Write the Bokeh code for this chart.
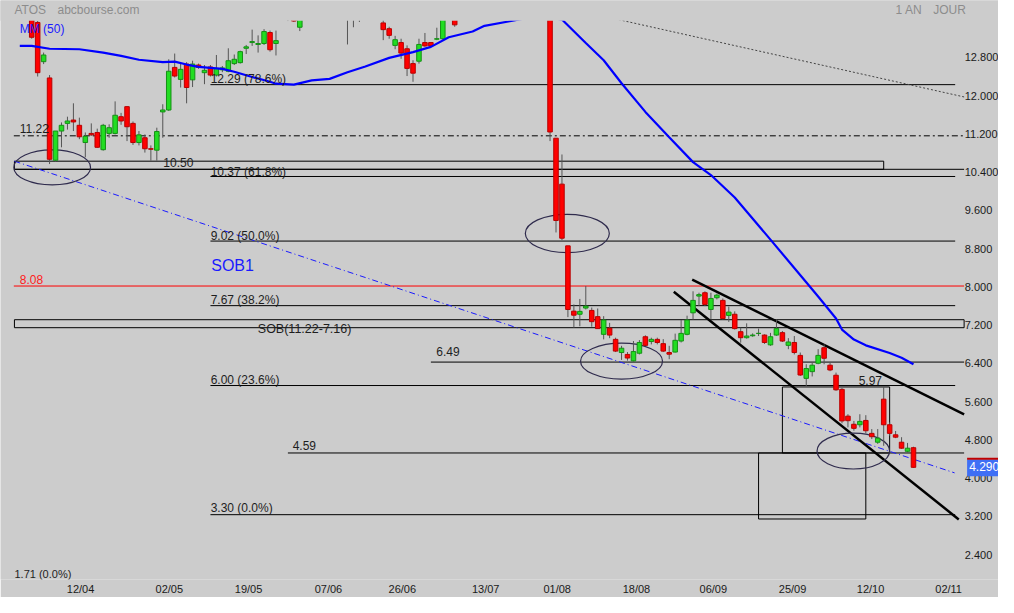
from bokeh.plotting import figure
from bokeh.models import FixedTicker
from bokeh.core.properties import value
from bokeh.embed import file_html
from bokeh.resources import INLINE

# ---------------- data (trading-day index, prices in EUR) ----------------
opens = [13.90, 13.59, 12.77, 12.43, 10.71, 11.32, 11.48, 11.55, 11.44, 11.08,
         11.27, 11.29, 10.93, 11.27, 11.27, 11.62, 11.83, 11.48, 11.08, 11.18,
         10.95, 10.92, 11.72, 11.76, 12.65, 12.40, 12.72, 12.39, 12.70, 12.54,
         12.66, 12.49, 12.60, 12.57, 12.73, 12.75, 13.05, 13.17, 13.13, 13.15,
         13.38, 13.15, 13.70, 13.85, 13.80, 13.49, 13.85, 13.90, 13.95, 13.90,
         13.85, 13.92, 13.80, 13.75, 13.70, 13.80, 13.90, 13.85, 13.75, 13.58,
         13.46, 13.11, 13.17, 13.04, 12.73, 12.78, 13.17, 13.17, 13.24, 13.25,
         13.80, 13.90, 13.70, 13.85, 13.90, 13.88, 13.94, 13.90, 13.88, 13.95,
         13.92, 13.85, 13.92, 13.88, 13.80, 13.90, 13.80, 13.90, 11.17, 10.21,
         8.92, 7.555, 7.49, 7.62, 7.57, 7.44, 7.07, 7.20, 6.965, 6.69,
         6.65, 6.515, 6.675, 7.02, 6.92, 6.965, 6.875, 6.69, 6.70, 6.93,
         7.07, 7.52, 7.87, 7.94, 7.59, 7.835, 7.78, 7.465, 7.49, 7.125,
         7.00, 7.04, 7.09, 7.055, 6.85, 7.055, 7.105, 6.84, 6.90, 6.63,
         6.15, 6.29, 6.465, 6.79, 6.425, 6.215, 5.92, 5.36, 5.19, 5.18,
         5.27, 5.00, 4.815, 5.715, 5.18, 4.97, 4.815, 4.625, 4.70]
highs = [13.98, 13.62, 12.96, 12.49, 11.32, 11.50, 11.62, 11.90, 11.60, 11.29,
         11.48, 11.37, 11.47, 11.46, 11.94, 11.70, 11.84, 11.52, 11.32, 11.25,
         11.02, 11.39, 11.88, 12.82, 12.94, 12.73, 12.76, 12.79, 12.73, 12.70,
         12.70, 12.91, 12.68, 13.05, 12.92, 13.00, 13.12, 13.44, 13.32, 13.45,
         13.42, 13.42, 13.90, 13.95, 13.88, 13.92, 13.97, 13.98, 13.98, 13.96,
         13.95, 13.96, 13.90, 13.85, 13.90, 13.95, 13.97, 13.93, 13.88, 13.75,
         13.50, 13.31, 13.25, 13.11, 12.80, 13.25, 13.37, 13.18, 13.48, 13.90,
         13.96, 13.96, 13.90, 13.95, 13.97, 13.96, 13.98, 13.97, 13.98, 13.98,
         13.97, 13.95, 13.97, 13.95, 13.94, 13.96, 13.95, 13.97, 11.17, 10.83,
         8.92, 7.695, 7.81, 8.08, 7.63, 7.61, 7.45, 7.31, 7.00, 6.83,
         6.70, 6.93, 6.95, 7.05, 7.00, 7.00, 6.97, 6.83, 7.085, 7.37,
         7.46, 7.97, 7.94, 7.97, 7.94, 7.92, 7.82, 7.65, 7.55, 7.21,
         7.30, 7.09, 7.19, 7.07, 7.10, 7.38, 7.14, 6.99, 7.035, 6.69,
         6.445, 6.47, 6.76, 6.86, 6.47, 6.27, 5.95, 5.40, 5.26, 5.40,
         5.38, 5.09, 5.09, 5.97, 5.23, 5.05, 4.92, 4.80, 4.72]
lows = [13.25, 12.46, 12.72, 10.63, 10.68, 10.98, 11.35, 11.32, 11.15, 10.77,
        11.22, 10.97, 10.91, 11.18, 11.25, 11.45, 11.11, 11.03, 11.02, 10.87,
        10.70, 10.70, 11.18, 11.74, 12.44, 12.23, 11.90, 12.24, 12.62, 12.30,
        12.46, 12.46, 12.55, 12.55, 12.70, 12.73, 12.93, 13.10, 12.96, 13.12,
        12.98, 12.90, 13.66, 13.62, 13.60, 13.41, 13.75, 13.80, 13.85, 13.80,
        13.78, 13.70, 13.66, 13.13, 13.49, 13.60, 13.70, 13.66, 13.66, 13.22,
        13.25, 13.03, 12.83, 12.47, 12.35, 12.73, 13.08, 13.09, 13.22, 13.23,
        13.70, 13.50, 13.66, 13.75, 13.80, 13.82, 13.86, 13.84, 13.85, 13.88,
        13.82, 13.78, 13.84, 13.76, 13.70, 13.75, 13.70, 11.11, 9.20, 9.04,
        7.43, 7.21, 7.24, 7.59, 7.23, 7.19, 6.965, 6.99, 6.70, 6.535,
        6.52, 6.50, 6.65, 6.82, 6.86, 6.86, 6.70, 6.55, 6.69, 6.90,
        7.05, 7.38, 7.66, 7.66, 7.38, 7.80, 7.38, 7.33, 7.17, 6.895,
        6.98, 7.02, 7.035, 6.87, 6.83, 7.04, 6.91, 6.76, 6.65, 6.20,
        5.99, 6.19, 6.445, 6.445, 6.30, 5.89, 5.21, 5.125, 5.055, 5.125,
        5.00, 4.88, 4.78, 4.74, 4.95, 4.90, 4.675, 4.605, 4.28]
closes = [13.28, 12.54, 12.91, 10.73, 11.32, 11.44, 11.53, 11.51, 11.20, 11.21,
          11.24, 10.98, 11.44, 11.39, 11.65, 11.53, 11.41, 11.08, 11.24, 10.95,
          10.94, 11.31, 11.76, 12.57, 12.47, 12.61, 12.23, 12.72, 12.65, 12.59,
          12.49, 12.63, 12.64, 12.79, 12.82, 12.98, 13.08, 13.19, 13.15, 13.40,
          13.02, 13.21, 13.85, 13.75, 13.62, 13.85, 13.90, 13.95, 13.90, 13.85,
          13.92, 13.80, 13.75, 13.66, 13.80, 13.90, 13.85, 13.75, 13.70, 13.44,
          13.32, 13.23, 12.95, 12.63, 12.53, 13.13, 13.10, 13.10, 13.25, 13.80,
          13.90, 13.54, 13.85, 13.90, 13.88, 13.94, 13.90, 13.88, 13.95, 13.92,
          13.85, 13.92, 13.88, 13.80, 13.90, 13.80, 13.90, 11.30, 9.45, 9.08,
          7.59, 7.47, 7.55, 7.66, 7.335, 7.19, 7.37, 7.055, 6.72, 6.78,
          6.575, 6.71, 6.90, 6.84, 6.965, 6.90, 6.72, 6.655, 6.945, 7.09,
          7.37, 7.78, 7.90, 7.695, 7.82, 7.89, 7.40, 7.535, 7.19, 7.00,
          7.035, 7.055, 7.09, 6.90, 7.02, 7.19, 6.93, 6.91, 6.69, 6.22,
          6.355, 6.425, 6.63, 6.57, 6.325, 5.91, 5.26, 5.265, 5.105, 5.25,
          5.055, 4.93, 4.90, 5.18, 5.00, 4.92, 4.69, 4.69, 4.29]
days = list(range(len(closes)))

# moving average MM(50)
ma_days = [-2, 0, 3, 8, 12, 15, 18, 22, 24, 26, 28, 32, 34, 37, 40, 41, 44, 47,
           50, 53, 56, 60, 64, 67, 70, 74, 76, 80, 83, 86, 89, 93, 96, 99, 103,
           107, 111, 114, 118, 124, 130, 132, 135, 136, 138, 140, 144, 146, 148]
ma_values = [13.10, 13.10, 13.04, 13.03, 12.96, 12.89, 12.81, 12.76, 12.77, 12.71,
             12.66, 12.62, 12.56, 12.45, 12.35, 12.31, 12.29, 12.38, 12.41, 12.55,
             12.67, 12.85, 12.97, 13.08, 13.28, 13.40, 13.52, 13.61, 13.68, 13.72,
             13.65, 13.16, 12.80, 12.32, 11.72, 11.19, 10.67, 10.40, 9.93, 9.05,
             8.16, 7.86, 7.40, 7.17, 6.96, 6.84, 6.68, 6.58, 6.445]

date_labels = ["12/04", "02/05", "19/05", "07/06", "26/06", "13/07",
               "01/08", "18/08", "06/09", "25/09", "12/10", "02/11"]
date_ticks = [8.2, 23.1, 36.4, 49.8, 62.2, 76.2, 88.2, 101.5, 114.4, 127.7, 140.8, 153.9]
price_ticks = [2.4, 3.2, 4.0, 4.8, 5.6, 6.4, 7.2, 8.0, 8.8, 9.6, 10.4, 11.2, 12.0, 12.8]
price_tick_labels = ["2.400", "3.200", "4.000", "4.800", "5.600", "6.400", "7.200",
                     "8.000", "8.800", "9.600", "10.400", "11.200", "12.000", "12.800"]

# Fibonacci retracement levels
fib_levels = [12.29, 10.37, 9.02, 7.67, 6.00, 3.30]
fib_texts = ["12.29  (78.6%)", "10.37  (61.8%)", "9.02  (50.0%)",
             "7.67  (38.2%)", "6.00  (23.6%)", "3.30  (0.0%)"]
last_close = 4.29
last_close_text = "4.290"

BG = "#cccccc"
FONT = value("Liberation Sans")
DARK = "#1e1e1e"

p = figure(width=998, height=597, x_range=(-5.237, 162.27), y_range=(1.945, 14.049),
           output_backend="svg", toolbar_location=None,
           x_axis_location="below", y_axis_location=None,
           min_border_left=0, min_border_top=0, min_border_right=0, min_border_bottom=16,
           background_fill_color=BG, border_fill_color=BG, outline_line_color=None)
p.grid.visible = False

# ---- date axis ----
xa = p.xaxis[0]
xa.ticker = FixedTicker(ticks=date_ticks)
xa.major_label_overrides = dict(zip(date_ticks, date_labels))
xa.axis_line_color = None
xa.major_tick_line_color = None
xa.minor_tick_line_color = None
xa.major_tick_out = 0
xa.major_tick_in = 0
xa.minor_tick_out = 0
xa.major_label_text_font = "Liberation Sans"
xa.major_label_text_font_size = "11px"
xa.major_label_text_color = "#1a1a1a"
xa.major_label_standoff = 3

# ---- horizontal levels ----
p.segment(x0=[30] * 6, x1=[155] * 6, y0=fib_levels, y1=fib_levels, line_color="black", line_width=1)
p.segment(x0=[-3, 67, 43], x1=[156.5, 156.5, 156.5], y0=[10.52, 6.49, 4.59], y1=[10.52, 6.49, 4.59],
          line_color="black", line_width=1)
p.segment(x0=[-3], x1=[156.5], y0=[11.22], y1=[11.22], line_color="black", line_width=1, line_dash="6 3 2 3")
p.segment(x0=[-3], x1=[156.5], y0=[8.08], y1=[8.08], line_color="#ff0000", line_width=1)

# zones / boxes
p.quad(left=[-2.9, -2.9, 126.0, 122.0], right=[143.0, 156.5, 144.0, 140.0],
       bottom=[10.52, 7.209, 4.59, 3.21], top=[10.69, 7.376, 5.97, 4.59],
       fill_color=None, line_color="black", line_width=1)

# trend lines
p.line(x=[-2.9, 154.9], y=[10.69, 4.174], line_color="#1a1aff", line_width=1, line_dash="6 3 1 3")
p.line(x=[90.0, 156.6], y=[13.886, 12.03], line_color="#444444", line_width=1, line_dash="2 2")
p.line(x=[110.86, 156.5], y=[8.215, 5.397], line_color="black", line_width=2.5)
p.line(x=[107.77, 155.6], y=[7.959, 3.201], line_color="black", line_width=2.5)

# ellipses
p.ellipse(x=[3.44, 89.9, 99.0, 137.9], y=[10.56, 9.18, 6.51, 4.63],
          width=[12.87, 14.1, 13.76, 12.17], height=[0.73, 0.80, 0.75, 0.75],
          fill_color=None, line_color="#2f2b4d", line_width=1.2)

# ---- candles ----
up = [c >= o for o, c in zip(opens, closes)]
tops = [max(o, c) for o, c in zip(opens, closes)]
bots = [min(o, c) for o, c in zip(opens, closes)]
fills = ["#22dd22" if u else "#ff0000" for u in up]
edges = ["#159015" if u else "#b80000" for u in up]
p.segment(x0=days, x1=days, y0=lows, y1=highs, line_color="#555555", line_width=1)
p.vbar(x=days, width=0.76, top=tops, bottom=bots, fill_color=fills, line_color=edges, line_width=1)

# moving average
p.line(x=ma_days, y=ma_values, line_color="#0000ff", line_width=2.2)

# chart top clip band
p.quad(left=[-10], right=[170], bottom=[13.625], top=[14.2], fill_color=BG, line_color=None)

# ---- price scale (right) ----
p.text(x=[156.6] * len(price_ticks), y=price_ticks, text=price_tick_labels, text_font=FONT,
       text_font_size="11px", text_color="#1a1a1a", text_baseline="middle", text_align="left",
       y_offset=-3)

# last price tag
p.quad(left=[157.0], right=[170], bottom=[4.105], top=[4.451], fill_color="#3f6ff5", line_color=None)
p.segment(x0=[157.0], x1=[170], y0=[4.468], y1=[4.468], line_color="#c00000", line_width=2)
p.text(x=[157.35], y=[4.299], text=[last_close_text], text_font=FONT, text_font_size="12px",
       text_color="white", text_baseline="middle", text_align="left")

# ---- texts (vertically centred on their position) ----
p.text(x=[30.04] * 6, y=[12.418, 10.466, 9.136, 7.795, 6.116, 3.445], text=fib_texts,
       text_font=FONT, text_font_size="12px", text_color=DARK, text_baseline="middle")
p.text(x=[-2.0, 22.1, 67.9, 138.8, 43.8], y=[11.372, 10.653, 6.705, 6.112, 4.737],
       text=["11.22", "10.50", "6.49", "5.97", "4.59"], text_font=FONT, text_font_size="12px",
       text_color=DARK, text_baseline="middle")
p.text(x=[37.95], y=[7.174], text=["SOB(11.22-7.16)"], text_font=FONT, text_font_size="12.5px",
       text_color=DARK, text_baseline="middle")
p.text(x=[-2.89], y=[2.07], text=["1.71  (0.0%)"], text_font=FONT, text_font_size="11px",
       text_color=DARK, text_baseline="middle")
p.text(x=[-2.0], y=[8.216], text=["8.08"], text_font=FONT, text_font_size="12px",
       text_color="#ff2020", text_baseline="middle")
p.text(x=[30.13], y=[8.51], text=["SOB1"], text_font=FONT, text_font_size="16px",
       text_color="#1a1aff", text_baseline="middle")
p.text(x=[-2.0], y=[13.445], text=["MM (50)"], text_font=FONT, text_font_size="12px",
       text_color="#1a1aff", text_baseline="middle")
p.text(x=[-2.89, 4.33, 145.0, 151.3], y=[13.86] * 4, text=["ATOS", "abcbourse.com", "1 AN", "JOUR"],
       text_font=FONT, text_font_size="12px", text_color="#8c8c8c", text_baseline="middle")

open("out.html", "w").write(file_html(p, INLINE))
